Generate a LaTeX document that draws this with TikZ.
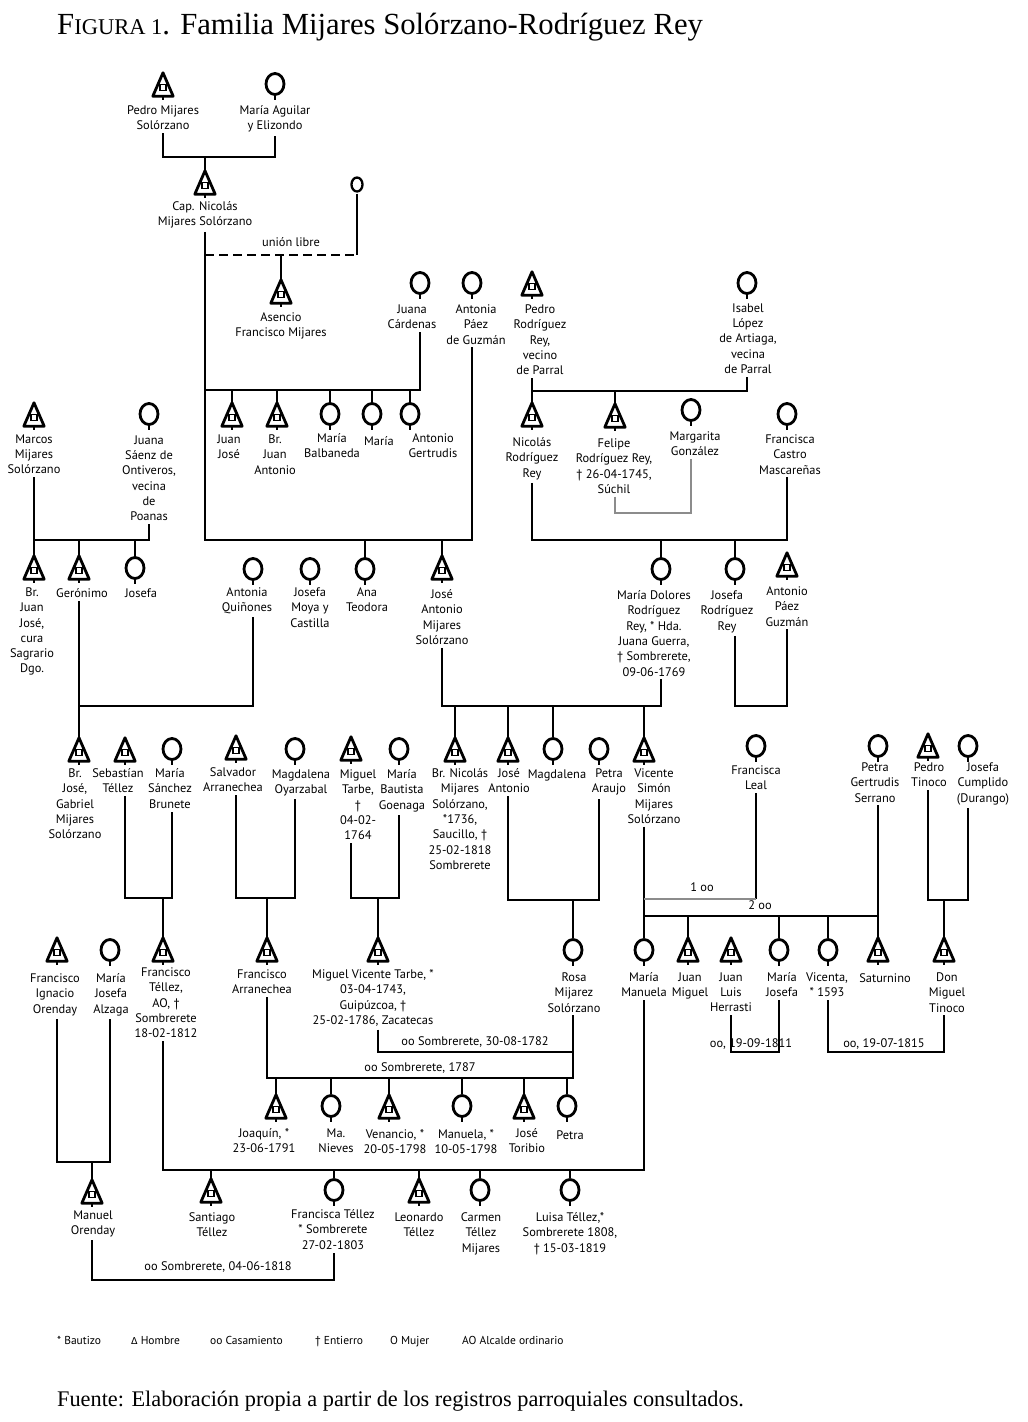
\documentclass[tikz,border=0pt]{standalone}
\usepackage{fontspec}
\setmainfont{Liberation Serif}
\newfontfamily\lbl{PT Sans}
\newfontfamily\dvs{DejaVu Sans}
\tikzset{
 rel/.style={line width=2.6pt},
 grayrel/.style={line width=2.2pt, draw=black!45},
 symline/.style={line width=2.8pt, line join=round},
 symb/.style={minimum width=20pt, minimum height=28pt, inner sep=0pt, draw=none},
 lab/.style={font=\lbl\fontsize{12.4}{15.3}\selectfont, align=center, inner xsep=0pt, inner ysep=3pt, anchor=north, execute at begin node={\rule{0pt}{10pt}}},
 mlab/.style={font=\lbl\fontsize{12.4}{14}\selectfont, inner sep=0pt},
 leg/.style={font=\lbl\fontsize{11.5}{13}\selectfont, inner sep=0pt, anchor=base west},
}
\newcommand\M[2]{\node[symb] (#1) at (#2) {};
 \draw[symline] ([yshift=-1pt]#1.north) -- ([yshift=4pt]#1.south west) -- ([yshift=4pt]#1.south east) -- cycle;
 \draw[line width=1.1pt] ([yshift=-1.5pt]#1.center) +(-3,-3) rectangle +(3,3);
 \draw[line width=1.3pt] ([yshift=4pt]#1.south) -- (#1.south);}
\newcommand\F[2]{\node[symb] (#1) at (#2) {};
 \draw[symline] ([yshift=2pt]#1.center) ellipse [x radius=9, y radius=10.5];
 \draw[line width=1.3pt] ([yshift=5.5pt]#1.south) -- (#1.south);}
\newcommand\Lb[4]{\node[lab] (#1L) at (#2,#3-8.5) {#4};}
\newcommand\cpl[3]{\draw[rel] (#1 |- #1L.south) -- (#1 |- 0,#3) -| (#2 |- #2L.south);}
\newcommand\kid[2]{\draw[rel] (#1 |- 0,#2) -- (#1.north);}
\begin{document}
\begin{tikzpicture}[x=1pt,y=-1pt]
\useasboundingbox[fill=white] (0,0) rectangle (1028,1422);
% title
\node[anchor=base west, inner sep=0pt] (title) at (57,34) {\fontsize{30.7}{32}\selectfont F{\fontsize{22.5}{24}\selectfont IGURA 1}. Familia Mijares Solórzano-Rodríguez Rey};
% ---------- generation 1
\M{pms}{163,86} \Lb{pms}{163}{111}{Pedro Mijares\\Solórzano}
\F{mae}{275,86} \Lb{mae}{275}{111}{María Aguilar\\y Elizondo}
\M{cnm}{205,184} \Lb{cnm}{205}{207}{Cap. Nicolás\\Mijares Solórzano}
\node[symb, minimum width=13pt, minimum height=22pt] (uc) at (357,186.5) {};
\draw[line width=2.3pt] ([yshift=2pt]uc.center) ellipse [x radius=5.5, y radius=7];
\draw[line width=1.2pt] ([yshift=4pt]uc.south) -- (uc.south);
\node[mlab] (ul) at (291,242) {unión libre};
\M{afm}{281,293} \Lb{afm}{281}{318}{Asencio\\Francisco Mijares}
\F{jc}{420,285} \Lb{jc}{412}{310}{Juana\\Cárdenas}
\F{apg}{472,285} \Lb{apg}{476}{310}{Antonia\\Páez\\de Guzmán}
\M{prr}{532,285} \Lb{prr}{540}{310}{Pedro\\Rodríguez\\Rey,\\vecino\\de Parral}
\F{ila}{747,285} \Lb{ila}{748}{309}{Isabel\\López\\de Artiaga,\\vecina\\de Parral}
% ---------- row 4
\M{jj}{232,416} \Lb{jj}{229}{440}{Juan\\José}
\M{bja}{277,416} \Lb{bja}{275}{440}{Br.\\Juan\\Antonio}
\F{mb}{330,416} \Lb{mb}{332}{439}{María\\Balbaneda}
\F{ma}{372,416} \Lb{ma}{379}{441}{María}
\F{ag}{410,416} \Lb{ag}{433}{439}{Antonio\\Gertrudis}
\M{mms}{34,416} \Lb{mms}{34}{440}{Marcos\\Mijares\\Solórzano}
\F{jso}{149,416} \Lb{jso}{149}{441}{Juana\\Sáenz de\\Ontiveros,\\vecina\\de\\Poanas}
\M{nrr}{532,416} \Lb{nrr}{532}{443}{Nicolás\\Rodríguez\\Rey}
\M{frr}{615,417} \Lb{frr}{614}{444}{Felipe\\Rodríguez Rey,\\† 26-04-1745,\\Súchil}
\F{mg}{691,412} \Lb{mg}{695}{437}{Margarita\\González}
\F{fcm}{787,416} \Lb{fcm}{790}{440}{Francisca\\Castro\\Mascareñas}
% ---------- row 5
\M{bjj}{34,569} \Lb{bjj}{32}{593}{Br.\\Juan\\José,\\cura\\Sagrario\\Dgo.}
\M{ger}{79,569} \Lb{ger}{82}{593}{Gerónimo}
\F{jos}{135,570} \Lb{jos}{141}{593}{Josefa}
\F{aq}{253,571} \Lb{aq}{247}{593}{Antonia\\Quiñones}
\F{jmc}{310,571} \Lb{jmc}{310}{593}{Josefa\\Moya y\\Castilla}
\F{at}{365,571} \Lb{at}{367}{593}{Ana\\Teodora}
\M{jams}{442,569} \Lb{jams}{442}{595}{José\\Antonio\\Mijares\\Solórzano}
\F{mdr}{661,571} \Lb{mdr}{654}{596}{María Dolores\\Rodríguez\\Rey, * Hda.\\Juana Guerra,\\† Sombrerete,\\09-06-1769}
\F{jrr}{735,571} \Lb{jrr}{727}{596}{Josefa\\Rodríguez\\Rey}
\M{apgz}{787,566} \Lb{apgz}{787}{592}{Antonio\\Páez\\Guzmán}
% ---------- row 6
\M{bjg}{79,751} \Lb{bjg}{75}{774}{Br.\\José,\\Gabriel\\Mijares\\Solórzano}
\M{st}{125,751} \Lb{st}{118}{774}{Sebastían\\Téllez}
\F{msb}{172,751} \Lb{msb}{170}{774}{María\\Sánchez\\Brunete}
\M{sa}{236,749} \Lb{sa}{233}{773}{Salvador\\Arranechea}
\F{mo}{295,751} \Lb{mo}{301}{775}{Magdalena\\Oyarzabal}
\M{mt}{351,750} \Lb{mt}{358}{775}{Miguel\\Tarbe,\\†\\04-02-\\1764}
\F{mbg}{399,751} \Lb{mbg}{402}{775}{María\\Bautista\\Goenaga}
\M{bnm}{455,751} \Lb{bnm}{460}{774}{Br. Nicolás\\Mijares\\Solórzano,\\*1736,\\Saucillo, †\\25-02-1818\\Sombrerete}
\M{ja2}{508,751} \Lb{ja2}{509}{774}{José\\Antonio}
\F{mag}{553,751} \Lb{mag}{557}{774}{Magdalena}
\F{pa}{599,751} \Lb{pa}{609}{774}{Petra\\Araujo}
\M{vs}{644,751} \Lb{vs}{654}{774}{Vicente\\Simón\\Mijares\\Solórzano}
\F{fl}{756,748} \Lb{fl}{756}{771}{Francisca\\Leal}
\F{pgs}{878,748} \Lb{pgs}{875}{768}{Petra\\Gertrudis\\Serrano}
\M{pt}{928,747} \Lb{pt}{929}{768}{Pedro\\Tinoco}
\F{jcd}{968,748} \Lb{jcd}{983}{768}{Josefa\\Cumplido\\(Durango)}
% ---------- row 7
\M{fio}{57,951} \Lb{fio}{55}{979}{Francisco\\Ignacio\\Orenday}
\F{mja}{110,952} \Lb{mja}{111}{979}{María\\Josefa\\Alzaga}
\M{ft}{163,951} \Lb{ft}{166}{973}{Francisco\\Téllez,\\AO, †\\Sombrerete\\18-02-1812}
\M{fa}{267,951} \Lb{fa}{262}{975}{Francisco\\Arranechea}
\M{mvt}{378,951} \Lb{mvt}{373}{975}{Miguel Vicente Tarbe, *\\03-04-1743,\\Guipúzcoa, †\\25-02-1786, Zacatecas}
\F{rms}{573,952} \Lb{rms}{574}{978}{Rosa\\Mijarez\\Solórzano}
\F{mm}{644,952} \Lb{mm}{644}{978}{María\\Manuela}
\M{jm}{688,951} \Lb{jm}{690}{978}{Juan\\Miguel}
\M{jlh}{731,951} \Lb{jlh}{731}{978}{Juan\\Luis\\Herrasti}
\F{mj}{779,952} \Lb{mj}{782}{978}{María\\Josefa}
\F{vic}{828,952} \Lb{vic}{827}{978}{Vicenta,\\* 1593}
\M{sat}{878,951} \Lb{sat}{885}{978}{Saturnino}
\M{dmt}{944,951} \Lb{dmt}{947}{978}{Don\\Miguel\\Tinoco}
% ---------- row 8
\M{joa}{276,1108} \Lb{joa}{264}{1134}{Joaquín, *\\23-06-1791}
\F{mn}{331,1108} \Lb{mn}{336}{1134}{Ma.\\Nieves}
\M{ven}{389,1108} \Lb{ven}{395}{1135}{Venancio, *\\20-05-1798}
\F{man}{462,1108} \Lb{man}{466}{1135}{Manuela, *\\10-05-1798}
\M{jt}{524,1108} \Lb{jt}{527}{1134}{José\\Toribio}
\F{pet}{567,1108} \Lb{pet}{570}{1135}{Petra}
% ---------- row 9
\M{mor}{92,1193} \Lb{mor}{93}{1216}{Manuel\\Orenday}
\M{sti}{211,1192} \Lb{sti}{212}{1218}{Santiago\\Téllez}
\F{fte}{334,1192} \Lb{fte}{333}{1215}{Francisca Téllez\\* Sombrerete\\27-02-1803}
\M{lt}{419,1192} \Lb{lt}{419}{1218}{Leonardo\\Téllez}
\F{ctm}{480,1192} \Lb{ctm}{481}{1218}{Carmen\\Téllez\\Mijares}
\F{lte}{570,1192} \Lb{lte}{570}{1218}{Luisa Téllez,*\\Sombrerete 1808,\\† 15-03-1819}
% ---------- connectors
\cpl{pms}{mae}{157} \kid{cnm}{157}
\draw[rel] (cnm |- cnmL.south) -- (cnm |- 0,540) -| (apg |- apgL.south);
\draw[rel] (uc.south) -- (uc |- 0,255);
\draw[rel, dash pattern=on 9pt off 5pt] (cnm |- 0,255) -- (uc |- 0,255);
\kid{afm}{255}
\draw[rel] (cnm |- 0,390) -| (jc |- jcL.south);
\kid{jj}{390} \kid{bja}{390} \kid{mb}{390} \kid{ma}{390} \kid{ag}{390}
\kid{at}{540} \kid{jams}{540}
\cpl{prr}{ila}{391} \kid{nrr}{391} \kid{frr}{391}
\cpl{mms}{jso}{540} \kid{bjj}{540} \kid{ger}{540} \kid{jos}{540}
\draw[grayrel] (frr |- frrL.south) -- (frr |- 0,513) -| (mg |- mgL.south);
\cpl{nrr}{fcm}{540} \kid{mdr}{540} \kid{jrr}{540}
\cpl{ger}{aq}{706} \kid{bjg}{706}
\cpl{jams}{mdr}{706} \kid{bnm}{706} \kid{ja2}{706} \kid{mag}{706} \kid{vs}{706}
\cpl{jrr}{apgz}{706}
\cpl{st}{msb}{898} \kid{ft}{898}
\cpl{sa}{mo}{898} \kid{fa}{898}
\cpl{mt}{mbg}{898} \kid{mvt}{898}
\cpl{ja2}{pa}{900} \kid{rms}{900}
\cpl{pt}{jcd}{900} \kid{dmt}{900}
\draw[rel] (vs |- vsL.south) -- (mm.north);
\draw[rel] (fl |- flL.south) -- (fl |- 0,899);
\draw[grayrel] (vs |- 0,899) -- (fl |- 0,899);
\node[mlab] (oo1) at (702,887) {1 oo};
\draw[rel] (vs |- 0,916) -- (pgs |- 0,916);
\node[mlab] (oo2) at (760,905) {2 oo};
\draw[rel] (pgs |- pgsL.south) -- (sat.north);
\kid{jm}{916} \kid{mj}{916} \kid{vic}{916}
\cpl{jlh}{mj}{1052}
\node[mlab] (m1811) at (751,1044) {oo, 19-09-1811};
\cpl{vic}{dmt}{1052}
\node[mlab] (m1815) at (884,1044) {oo, 19-07-1815};
\cpl{mvt}{rms}{1052}
\node[mlab] (m1782) at (475,1042) {oo Sombrerete, 30-08-1782};
\draw[rel] (fa |- faL.south) -- (fa |- 0,1078) -| (rms |- 0,1052);
\node[mlab] (m1787) at (420,1068) {oo Sombrerete, 1787};
\kid{joa}{1078} \kid{mn}{1078} \kid{ven}{1078} \kid{man}{1078} \kid{jt}{1078} \kid{pet}{1078}
\cpl{ft}{mm}{1170}
\kid{sti}{1170} \kid{fte}{1170} \kid{lt}{1170} \kid{ctm}{1170} \kid{lte}{1170}
\cpl{fio}{mja}{1162} \kid{mor}{1162}
\cpl{mor}{fte}{1280}
\node[mlab] (m1818) at (218,1267) {oo Sombrerete, 04-06-1818};
% ---------- legend
\node[leg] (l1) at (57,1344) {* Bautizo};
\node[leg] (l2) at (131,1344) {{\dvs\fontsize{9.5}{11}\selectfont Δ} Hombre};
\node[leg] (l3) at (210,1344) {oo Casamiento};
\node[leg] (l4) at (315,1344) {† Entierro};
\node[leg] (l5) at (390,1344) {O Mujer};
\node[leg] (l6) at (462,1344) {AO Alcalde ordinario};
% ---------- source
\node[anchor=base west, inner sep=0pt] (src) at (57,1406) {\fontsize{22.3}{24}\selectfont Fuente: Elaboración propia a partir de los registros parroquiales consultados.};
\end{tikzpicture}
\end{document}
